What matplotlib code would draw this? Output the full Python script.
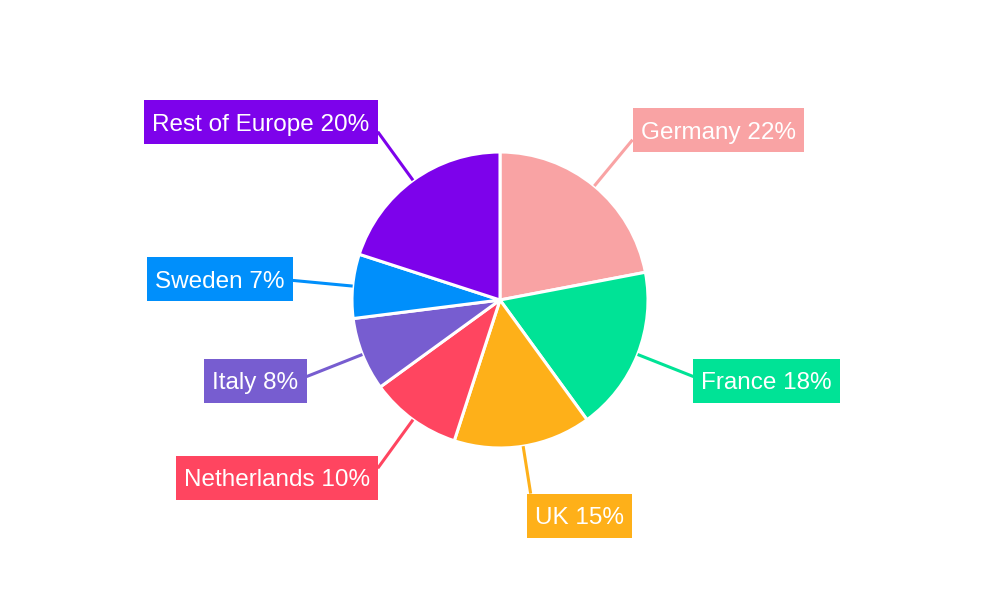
import numpy as np
import matplotlib
matplotlib.use("Agg")
from matplotlib import pyplot as plt
from matplotlib.patches import Rectangle

countries = ["Germany", "France", "UK", "Netherlands", "Italy", "Sweden", "Rest of Europe"]
shares = [22, 18, 15, 10, 8, 7, 20]
colors = ["#F9A3A4", "#00E396", "#FEB019", "#FF4560", "#775DD0", "#008FFB", "#7D02EB"]

plt.rcParams['font.family'] = ['Liberation Sans', 'DejaVu Sans']

fig = plt.figure(figsize=(10, 6), dpi=100)
ax = fig.add_axes([0, 0, 1, 1])

cx, cy, R = 500, 300, 148
wedges, _ = ax.pie(shares, colors=colors, startangle=90, counterclock=False,
                   center=(cx, cy), radius=R,
                   wedgeprops=dict(edgecolor='white', linewidth=2.2))
ax.set_xlim(0, 1000)
ax.set_ylim(0, 600)
ax.set_aspect('equal')
ax.axis('off')

fs = 17.5
pad_x = 8
box_h = 44
total = sum(shares)
start = 0.0
labels = []
for name, val, col in zip(countries, shares, colors):
    mid = np.deg2rad(start + val / total * 360 / 2)
    start += val / total * 360
    s, c = np.sin(mid), np.cos(mid)
    x0, y0 = cx + R * s, cy + R * c
    r_end = 208 if abs(s) > 0.3 else 196
    x1, y1 = cx + r_end * s, cy + r_end * c
    ax.plot([x0, x1], [y0, y1], color=col, lw=2.2, solid_capstyle='butt', zorder=1)
    if s > 0.3:
        ha, tx, ty = 'left', x1 + pad_x, y1 + 12 * c
    elif s < -0.3:
        ha, tx, ty = 'right', x1 - pad_x, y1 + 12 * c
    else:
        ha, tx, ty = 'left', x1 + pad_x - 4, y1 - box_h / 2
    t = ax.text(tx, ty, f"{name} {val}%", ha=ha, va='center_baseline', color='white',
                fontsize=fs, zorder=3)
    labels.append((t, col, ty))

fig.canvas.draw()
renderer = fig.canvas.get_renderer()
for t, col, ty in labels:
    bb = t.get_window_extent(renderer).transformed(ax.transData.inverted())
    ax.add_patch(Rectangle((bb.x0 - pad_x, ty - box_h / 2), bb.width + 2 * pad_x, box_h,
                           facecolor=col, edgecolor='none', zorder=2))

fig.savefig("out.png", dpi=100)
